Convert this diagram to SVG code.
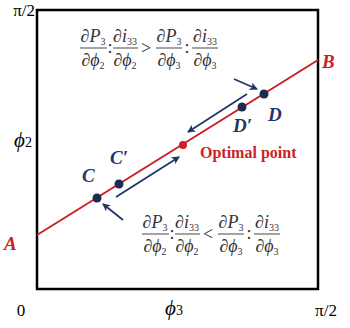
<svg xmlns="http://www.w3.org/2000/svg" width="350" height="328" viewBox="0 0 350 328">
<style>
.ax{font-family:"Liberation Serif",serif;font-size:17px;fill:#000}
.f{font-family:"Liberation Serif",serif;font-size:18px;fill:#333}
.it{font-style:italic}
.sub{font-size:10px}
.lbl{font-family:"Liberation Serif",serif;font-size:19px;font-weight:bold;font-style:italic;fill:#1f3768}
.red{font-family:"Liberation Serif",serif;font-weight:bold;fill:#cc1f27}
.arr{stroke:#1f3768;stroke-width:1.8;fill:none;marker-end:url(#ah)}
.bar{stroke:#333;stroke-width:0.9}
</style>
<defs>
<marker id="ah" markerWidth="8" markerHeight="8" refX="7" refY="4" orient="auto" markerUnits="userSpaceOnUse">
<path d="M0,0 L8,4 L0,8 L2,4 Z" fill="#1f3768"/>
</marker>
</defs>
<rect x="0" y="0" width="350" height="328" fill="#fff"/>
<g id="frame">
<rect x="37" y="10" width="281" height="279" fill="none" stroke="#000" stroke-width="2.5"/>
</g>
<g id="axis-labels">
<text class="ax" x="35" y="16" text-anchor="end">π/2</text>
<text class="ax" x="21" y="316" text-anchor="middle">0</text>
<text class="ax" x="326" y="316" text-anchor="middle">π/2</text>
<text class="ax" x="14" y="147" style="font-size:21px"><tspan class="it">ϕ</tspan><tspan style="font-size:14px">2</tspan></text>
<text class="ax" x="165" y="315" style="font-size:21px"><tspan class="it">ϕ</tspan><tspan style="font-size:14px">3</tspan></text>
</g>
<g id="line-AB">
<line x1="37" y1="235" x2="318" y2="60" stroke="#cc1f27" stroke-width="2"/>
<text class="red" x="4" y="250" style="font-size:19px;font-style:italic">A</text>
<text class="red" x="322" y="68" style="font-size:19px;font-style:italic">B</text>
</g>
<g id="connectors">
<line class="arr" x1="234" y1="79" x2="257" y2="89"/>
<line class="arr" x1="247" y1="94" x2="188" y2="132"/>
<line class="arr" x1="116" y1="197" x2="179" y2="157"/>
<line class="arr" x1="123" y1="220" x2="103" y2="204"/>
</g>
<g id="point-C">
<circle cx="97" cy="198" r="4.5" fill="#1b2c50"/>
<text class="lbl" x="82" y="182">C</text>
</g>
<g id="point-C-prime">
<circle cx="119" cy="184" r="4.5" fill="#1b2c50"/>
<text class="lbl" x="110" y="164">C′</text>
</g>
<g id="point-D-prime">
<circle cx="242" cy="107" r="4.5" fill="#1b2c50"/>
<text class="lbl" x="233" y="132">D′</text>
</g>
<g id="point-D">
<circle cx="264" cy="94" r="4.5" fill="#1b2c50"/>
<text class="lbl" x="268" y="121">D</text>
</g>
<g id="optimal-point">
<circle cx="183" cy="145" r="4" fill="#cc1f27"/>
<text class="red" x="200" y="158" style="font-size:16px">Optimal point</text>
</g>
<g id="formula-top" class="f">
<text x="93" y="42" text-anchor="middle">∂<tspan class="it">P</tspan><tspan class="sub" dy="3">3</tspan></text>
<line class="bar" x1="80" y1="48" x2="107" y2="48"/>
<text x="93" y="66" text-anchor="middle">∂<tspan class="it">ϕ</tspan><tspan class="sub" dy="3">2</tspan></text>
<text x="110" y="53" text-anchor="middle">:</text>
<text x="125" y="42" text-anchor="middle">∂<tspan class="it">i</tspan><tspan class="sub" dy="3">33</tspan></text>
<line class="bar" x1="113" y1="48" x2="138" y2="48"/>
<text x="125" y="66" text-anchor="middle">∂<tspan class="it">ϕ</tspan><tspan class="sub" dy="3">2</tspan></text>
<text x="146" y="54" text-anchor="middle">&gt;</text>
<text x="169" y="42" text-anchor="middle">∂<tspan class="it">P</tspan><tspan class="sub" dy="3">3</tspan></text>
<line class="bar" x1="156" y1="48" x2="182" y2="48"/>
<text x="169" y="66" text-anchor="middle">∂<tspan class="it">ϕ</tspan><tspan class="sub" dy="3">3</tspan></text>
<text x="187" y="53" text-anchor="middle">:</text>
<text x="205" y="42" text-anchor="middle">∂<tspan class="it">i</tspan><tspan class="sub" dy="3">33</tspan></text>
<line class="bar" x1="192" y1="48" x2="218" y2="48"/>
<text x="205" y="66" text-anchor="middle">∂<tspan class="it">ϕ</tspan><tspan class="sub" dy="3">3</tspan></text>
</g>
<g id="formula-bottom" class="f">
<text x="155" y="228" text-anchor="middle">∂<tspan class="it">P</tspan><tspan class="sub" dy="3">3</tspan></text>
<line class="bar" x1="142" y1="234" x2="169" y2="234"/>
<text x="155" y="252" text-anchor="middle">∂<tspan class="it">ϕ</tspan><tspan class="sub" dy="3">2</tspan></text>
<text x="172" y="239" text-anchor="middle">:</text>
<text x="187" y="228" text-anchor="middle">∂<tspan class="it">i</tspan><tspan class="sub" dy="3">33</tspan></text>
<line class="bar" x1="175" y1="234" x2="200" y2="234"/>
<text x="187" y="252" text-anchor="middle">∂<tspan class="it">ϕ</tspan><tspan class="sub" dy="3">2</tspan></text>
<text x="208" y="240" text-anchor="middle">&lt;</text>
<text x="231" y="228" text-anchor="middle">∂<tspan class="it">P</tspan><tspan class="sub" dy="3">3</tspan></text>
<line class="bar" x1="218" y1="234" x2="244" y2="234"/>
<text x="231" y="252" text-anchor="middle">∂<tspan class="it">ϕ</tspan><tspan class="sub" dy="3">3</tspan></text>
<text x="249" y="239" text-anchor="middle">:</text>
<text x="267" y="228" text-anchor="middle">∂<tspan class="it">i</tspan><tspan class="sub" dy="3">33</tspan></text>
<line class="bar" x1="254" y1="234" x2="280" y2="234"/>
<text x="267" y="252" text-anchor="middle">∂<tspan class="it">ϕ</tspan><tspan class="sub" dy="3">3</tspan></text>
</g>
</svg>
